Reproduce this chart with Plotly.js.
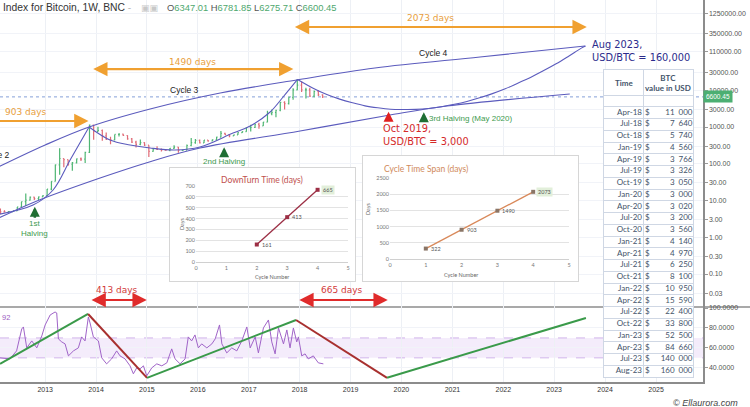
<!DOCTYPE html>
<html>
<head>
<meta charset="utf-8">
<script src="https://cdn.plot.ly/plotly-3.0.1.min.js"></script>
<style>
  body { margin: 0; background: #fff; }
  #chart { width: 750px; height: 407px; }
</style>
</head>
<body>
<div id="chart"></div>
<script>
// BNC bitcoin index, monthly bars (Feb 2012 .. Jun 2018)
var candleOpen = [5.5,4.9,4.9,5.0,5.2,6.7,9.3,10.2,12.4,11.2,12.6,
  13.5,20.4,33.4,93,139,129,97,106,135,133,204,1130,
  757,803,573,457,447,628,640,587,478,386,338,378,
  320,217,254,244,236,230,263,284,230,236,314,377,
  430,368,437,416,448,530,673,624,573,609,700,745,
  963,970,1190,1080,1350,2300,2480,2860,4700,4340,6440,10200,
  13800,10200,10300,6900,9250,7500];
var candleHigh = [6.1,5.4,5.2,5.2,6.7,9.3,15.4,12.8,12.6,12.8,13.9,
  20.6,33.4,95,266,140,129,111,139,147,213,1163,1150,
  1022,850,710,545,630,680,660,600,500,420,460,385,
  320,268,300,260,247,268,318,285,245,334,500,470,
  460,445,440,466,540,780,703,630,620,720,750,975,
  1150,1210,1300,1370,2780,3000,2950,4780,5000,6470,11400,19800,
  17200,11700,11700,9800,10000,7770];
var candleLow = [4.3,4.7,4.8,4.9,5.2,6.5,7.1,10.0,10.4,10.4,12.5,
  13.2,19.1,33,50,80,88,65,102,118,105,197,450,
  740,420,440,340,433,555,565,450,365,275,320,305,
  152,212,235,215,225,220,253,198,225,236,300,350,
  355,365,395,412,435,525,605,530,570,605,685,740,
  750,940,890,1060,1350,2100,1840,2700,2980,4110,5500,10000,
  9000,6000,6600,6500,7000,6120];
var candleClose = [4.9,4.9,5.0,5.2,6.7,9.3,10.2,12.4,11.2,12.6,13.5,
  20.4,33.4,93,139,129,97,106,135,133,204,1130,757,
  803,573,457,447,628,640,587,478,386,338,378,320,
  217,254,244,236,230,263,284,230,236,314,377,430,
  368,437,416,448,530,673,624,573,609,700,745,963,
  970,1190,1080,1350,2300,2480,2860,4700,4340,6440,10200,13800,
  10200,10300,6900,9250,7500,6600.45];
var lastBar = [6347.01, 6781.85, 6275.71, 6600.45];   // O H L C of the last weekly bar

// hand drawn cycle curves on the price pane
var upperDate = ['2012-02-01','2013-01-01','2013-11-12','2015-01-24','2016-06-10','2017-12-10','2019-06-25','2021-07-18','2023-08-11'];
var upperUsd = [82, 324, 1000, 3090, 8410, 19000, 40300, 80400, 160000];
var lowerDate = ['2012-02-01','2012-10-21','2014-01-30','2015-01-24','2016-01-17','2018-01-04','2019-10-11','2020-11-23','2023-04-23'];
var lowerUsd = [3.3, 9.3, 41, 114, 268, 778, 2120, 3725, 7910];
var cycle2Date = ['2012-02-01','2012-10-06','2013-02-27','2013-06-29','2013-11-12'];
var cycle2Usd = [4.2, 7.5, 19.3, 126, 1000];
var cycle3Date = ['2013-11-12','2014-04-11','2014-09-02','2015-01-24','2015-07-22','2016-01-17','2016-09-10','2017-01-11','2017-06-03','2017-09-04','2017-12-17'];
var cycle3Usd = [1000, 443, 324, 268, 237, 286, 687, 1065, 2560, 6550, 19700];

// forecast table (also the cycle 4 curve)
var tableTime = ['Apr-18','Jul-18','Oct-18','Jan-19','Apr-19','Jul-19','Oct-19','Jan-20','Apr-20','Jul-20','Oct-20','Jan-21','Apr-21','Jul-21','Oct-21','Jan-22','Apr-22','Jul-22','Oct-22','Jan-23','Apr-23','Jul-23','Aug-23'];
var tableUsd = [11000,7640,5740,4560,3766,3326,3050,3000,3020,3200,3560,4140,4970,6250,8100,10950,15590,22400,33800,52500,84660,140000,160000];

// weekly RSI
var rsiDate = ['2012-02-12','2012-04-23','2012-06-10','2012-07-17','2012-07-29','2012-08-22','2012-09-27','2012-11-02','2012-12-08','2013-01-01',
  '2013-02-06','2013-03-13','2013-03-25','2013-04-06','2013-04-30','2013-05-24','2013-06-17','2013-07-23','2013-08-27','2013-09-20',
  '2013-10-14','2013-11-07','2013-11-19','2013-12-13','2014-01-18','2014-02-11','2014-03-18','2014-04-23','2014-05-29','2014-06-22',
  '2014-07-28','2014-09-02','2014-09-26','2014-10-20','2014-11-13','2014-12-07','2014-12-31','2015-02-05','2015-03-13','2015-04-18',
  '2015-05-24','2015-06-28','2015-07-22','2015-08-27','2015-10-02','2015-10-25','2015-11-18','2015-12-12','2016-01-05','2016-01-29',
  '2016-03-06','2016-04-11','2016-05-05','2016-06-05','2016-06-22','2016-07-27','2016-09-01','2016-10-07','2016-11-12','2016-12-18',
  '2017-01-11','2017-02-16','2017-03-11','2017-04-16','2017-05-22','2017-06-15','2017-07-09','2017-08-02','2017-09-07','2017-10-01',
  '2017-10-24','2017-11-17','2017-12-11','2017-12-23','2018-01-16','2018-02-09','2018-03-04','2018-04-09','2018-05-15','2018-06-20'];
var rsiVal = [50,49,57,79,81,60,67,60,72,83,
  93,96,95,69,66,64,52,57,60,71,
  67,91,85,71,67,50,44,49,57,52,
  49,42,34,40,39,42,32,40,44,42,
  45,59,49,44,49,71,67,73,60,64,
  60,64,69,83,64,55,60,57,67,81,
  60,71,55,80,88,66,54,80,64,78,
  60,80,66,71,52,54,49,52,45,44];
var rsiPivotDate = ['2012-02-12','2013-11-05','2015-01-02','2017-12-06','2019-09-20','2023-08-17'];
var rsiPivotVal = [44, 94, 30, 88, 30, 90];
var rsiBand = [50, 70];

// inset charts
var downCycle = [2, 3, 4];
var downDays = [161, 413, 665];
var spanCycle = [1, 2, 3, 4];
var spanDays = [322, 903, 1490, 2073];

// axis ticks
var priceTicks = [0.03, 0.1, 0.3, 1, 3, 10, 30, 100, 300, 1000, 3000, 10000, 30000, 110000, 350000, 1250000];
var rsiTicks = [40, 60, 80, 100];
var yearTicks = ['2013','2014','2015','2016','2017','2018','2019','2020','2021','2022','2023','2024','2025'];

var lg = function (v) { return Math.log10(v); };
var monthNum = {Jan:'01',Feb:'02',Mar:'03',Apr:'04',May:'05',Jun:'06',Jul:'07',Aug:'08',Sep:'09',Oct:'10',Nov:'11',Dec:'12'};
function labelToDate(s) { var p = s.split('-'); return '20' + p[1] + '-' + monthNum[p[0]] + '-15'; }
function fmtUsd(v) { return String(v).replace(/\B(?=(\d{3})+(?!\d))/g, '\u2002'); }

var candleDate = [];
for (var i = 0; i < candleOpen.length; i++) {
  var m = 1 + i;  // first bar is Feb 2012
  var yy = 2012 + Math.floor(m / 12);
  var mm = (m % 12) + 1;
  candleDate.push(yy + '-' + (mm < 10 ? '0' : '') + mm + '-15');
}

var curveColor = '#5b5bbd';
var tvFont = 'DejaVu Sans';
var xlFont = 'Lato';

var data = [];
data.push({
  type: 'ohlc', x: candleDate, open: candleOpen, high: candleHigh, low: candleLow, close: candleClose,
  xaxis: 'x', yaxis: 'y', tickwidth: 0.25, hoverinfo: 'skip',
  increasing: {line: {color: '#4fb673', width: 1.2}},
  decreasing: {line: {color: '#e06a76', width: 1.2}}
});
[[upperDate, upperUsd], [lowerDate, lowerUsd], [cycle2Date, cycle2Usd], [cycle3Date, cycle3Usd],
 [['2017-12-17'].concat(tableTime.map(labelToDate)), [19700].concat(tableUsd)]].forEach(function (c) {
  data.push({type: 'scatter', mode: 'lines', x: c[0], y: c[1], xaxis: 'x', yaxis: 'y',
    line: {color: curveColor, width: 1.1, shape: 'spline'}, hoverinfo: 'skip'});
});

// RSI pane
data.push({type: 'scatter', mode: 'lines', x: rsiDate, y: rsiVal, xaxis: 'x', yaxis: 'y2',
  line: {color: '#a064c8', width: 1}, hoverinfo: 'skip'});
for (var k = 0; k < rsiPivotDate.length - 1; k++) {
  data.push({type: 'scatter', mode: 'lines', x: rsiPivotDate.slice(k, k + 2), y: rsiPivotVal.slice(k, k + 2),
    xaxis: 'x', yaxis: 'y2', line: {color: k % 2 === 0 ? '#3a9a4a' : '#a8302f', width: 2}, hoverinfo: 'skip'});
}

// inset frames (empty subplots give the white boxes)
data.push({type: 'scatter', x: [], y: [], xaxis: 'x2', yaxis: 'y3', hoverinfo: 'skip'});
data.push({type: 'scatter', mode: 'lines+markers', x: downCycle, y: downDays, xaxis: 'x3', yaxis: 'y4',
  line: {color: '#9c2f45', width: 1.3}, marker: {symbol: 'square', size: 4, color: '#9c2f45'}, hoverinfo: 'skip'});
data.push({type: 'scatter', x: [], y: [], xaxis: 'x4', yaxis: 'y5', hoverinfo: 'skip'});
data.push({type: 'scatter', mode: 'lines+markers', x: spanCycle, y: spanDays, xaxis: 'x5', yaxis: 'y6',
  line: {color: '#d9895a', width: 1.3}, marker: {symbol: 'square', size: 4, color: '#8a7566'}, hoverinfo: 'skip'});

// table
var rowY = tableTime.map(function (t, i) { return i + 0.5; });
var tblFont = {family: xlFont, size: 8, color: '#44546a'};
data.push({type: 'scatter', mode: 'text', x: tableTime.map(function () { return 38; }), y: rowY, text: tableTime,
  textposition: 'middle left', textfont: tblFont, xaxis: 'x6', yaxis: 'y7', hoverinfo: 'skip'});
data.push({type: 'scatter', mode: 'text', x: tableTime.map(function () { return 41; }), y: rowY, text: tableTime.map(function () { return '$'; }),
  textposition: 'middle right', textfont: tblFont, xaxis: 'x6', yaxis: 'y7', hoverinfo: 'skip'});
data.push({type: 'scatter', mode: 'text', x: tableTime.map(function () { return 88.5; }), y: rowY, text: tableUsd.map(fmtUsd),
  textposition: 'middle left', textfont: tblFont, xaxis: 'x6', yaxis: 'y7', hoverinfo: 'skip'});

// ---- annotations
var ann = [];
function txt(o) { o.showarrow = false; ann.push(o); }

txt({xref: 'paper', yref: 'paper', x: 0, y: 1, xanchor: 'left', yanchor: 'top', xshift: 1,
  text: 'Index for Bitcoin, 1W, BNC <span style="color:#bbb">-</span>', font: {family: 'Liberation Sans', size: 10.3, color: '#333'}});
txt({xref: 'paper', yref: 'paper', x: 139 / 703, y: 1, xanchor: 'left', yanchor: 'top', yshift: -1,
  text: '\u25A3\u25A3', font: {family: 'DejaVu Sans', size: 9, color: '#c8c8c8'}});
txt({xref: 'paper', yref: 'paper', x: 165 / 703, y: 1, xanchor: 'left', yanchor: 'top',
  text: ['O', 'H', 'L', 'C'].map(function (l, i) { return l + '<span style="color:#4ea86e">' + lastBar[i].toFixed(2) + '</span>'; }).join(' '),
  font: {family: 'Liberation Sans', size: 9.4, color: '#555'}});

// day-count arrows
var orange = '#f0a030';
function arrow(d0, d1, v, color, both) {
  ann.push({xref: 'x', yref: 'y', axref: 'x', ayref: 'y', x: d1, ax: d0, y: lg(v), ay: lg(v), text: '', showarrow: true,
    arrowcolor: color, arrowwidth: 2.2, arrowhead: 2, arrowsize: 1.3, startarrowhead: 2, startarrowsize: 1.3,
    arrowside: both ? 'end+start' : 'end'});
}
arrow('2011-06-01', '2013-11-08', 1456, orange, false);
arrow('2013-12-01', '2017-11-17', 37800, orange, true);
arrow('2017-11-17', '2023-08-23', 526000, orange, true);
arrow('2013-11-19', '2014-12-31', 0.0196, '#e02b2b', true);
arrow('2017-12-19', '2019-09-25', 0.0196, '#e02b2b', true);
var orangeText = {family: tvFont, size: 9, color: '#e8a040'};
txt({xref: 'x', yref: 'y', x: '2012-08-13', y: lg(2559), text: '903 days', font: orangeText});
txt({xref: 'x', yref: 'y', x: '2015-11-23', y: lg(58700), text: '1490 days', font: orangeText});
txt({xref: 'x', yref: 'y', x: '2020-07-28', y: lg(908000), text: '2073 days', font: orangeText});
var redText = {family: tvFont, size: 9, color: '#d23a3a'};
txt({xref: 'x', yref: 'y', x: '2014-05-28', y: lg(0.0367), text: '413 days', font: redText});
txt({xref: 'x', yref: 'y', x: '2018-11-01', y: lg(0.0367), text: '665 days', font: redText});

// cycle labels
var blk = {family: 'Liberation Sans', size: 8.5, color: '#222'};
txt({xref: 'x', yref: 'y', x: '2012-05-08', y: lg(173), xanchor: 'right', text: 'Cycle 2', font: blk});
txt({xref: 'x', yref: 'y', x: '2015-10-01', y: lg(10200), text: 'Cycle 3', font: blk});
txt({xref: 'x', yref: 'y', x: '2020-08-15', y: lg(103000), text: 'Cycle 4', font: blk});

// halvings
var grn = {family: 'Liberation Sans', size: 8, color: '#3e9a4e'};
ann.push({xref: 'x', yref: 'y', x: '2012-10-19', y: lg(6.8), ax: 0, ay: 22, text: '1st<br>Halving', font: grn,
  showarrow: true, arrowcolor: '#1f6e33', arrowwidth: 2.5, arrowhead: 2, arrowsize: 0.8});
ann.push({xref: 'x', yref: 'y', x: '2016-07-08', y: lg(281), ax: 0, ay: 14, text: '2nd Halving', font: grn,
  showarrow: true, arrowcolor: '#1f6e33', arrowwidth: 2.5, arrowhead: 2, arrowsize: 0.8});
ann.push({xref: 'x', yref: 'y', x: '2020-06-10', y: lg(2510), ax: 0, ay: 9, text: '',
  showarrow: true, arrowcolor: '#1f6e33', arrowwidth: 2.5, arrowhead: 2, arrowsize: 0.8});
txt({xref: 'x', yref: 'y', x: '2020-07-05', y: lg(1758), xanchor: 'left', text: '3rd Halving (May 2020)', font: grn});

// targets
ann.push({xref: 'x', yref: 'y', x: '2019-10-01', y: lg(2600), ax: 0, ay: 10, text: '',
  showarrow: true, arrowcolor: '#e02020', arrowwidth: 2.5, arrowhead: 2, arrowsize: 0.8});
txt({xref: 'x', yref: 'y', x: '2019-08-07', y: lg(606), xanchor: 'left', align: 'left',
  text: 'Oct 2019,<br>USD/BTC = 3,000', font: {family: tvFont, size: 9.8, color: '#d42a2a'}});
txt({xref: 'x', yref: 'y', x: '2023-09-15', y: lg(117000), xanchor: 'left', align: 'left',
  text: 'Aug 2023,<br>USD/BTC = 160,000', font: {family: tvFont, size: 9.8, color: '#2b2b8c'}});

// price tag, rsi value, watermark
txt({xref: 'paper', yref: 'y', x: 1, y: lg(candleClose[candleClose.length - 1]), xanchor: 'left',
  text: candleClose[candleClose.length - 1].toFixed(2), bgcolor: '#4caf72', borderpad: 2,
  font: {family: 'Liberation Sans', size: 6.5, color: '#fff'}});
txt({xref: 'paper', yref: 'y2', x: 0, y: 90, xanchor: 'left', text: '92', font: {family: 'Liberation Sans', size: 7.5, color: '#9b5bbf'}});
txt({xref: 'paper', yref: 'paper', x: 740 / 703, y: -21 / 382, xanchor: 'right', yanchor: 'middle',
  text: '<i>© Ellaurora.com</i>', font: {family: 'Liberation Sans', size: 9, color: '#444'}});

// inset titles / axis titles / point labels
txt({xref: 'paper', yref: 'paper', x: 262 / 703, y: 1 - 180 / 382, text: 'DownTurn Time (days)', font: {family: xlFont, size: 8.5, color: '#c0504d'}});
txt({xref: 'paper', yref: 'paper', x: 177 / 703, y: 1 - 224 / 382, textangle: -90, text: 'Days', font: {family: xlFont, size: 5.5, color: '#666'}});
txt({xref: 'paper', yref: 'paper', x: 272 / 703, y: 1 - 277 / 382, yanchor: 'middle', text: 'Cycle Number', font: {family: xlFont, size: 5.5, color: '#666'}});
txt({xref: 'paper', yref: 'paper', x: 470 / 703, y: 1 - 169 / 382, text: 'Cycle Time Span (days)', font: {family: xlFont, size: 8.5, color: '#d08a5c'}});
txt({xref: 'paper', yref: 'paper', x: 368 / 703, y: 1 - 208 / 382, textangle: -90, text: 'Days', font: {family: xlFont, size: 5.5, color: '#666'}});
txt({xref: 'paper', yref: 'paper', x: 480 / 703, y: 1 - 275 / 382, yanchor: 'middle', text: 'Cycle Number', font: {family: xlFont, size: 5.5, color: '#666'}});
downCycle.forEach(function (c, i) {
  txt({xref: 'x3', yref: 'y4', x: c, y: downDays[i], xanchor: 'left', xshift: 3, text: String(downDays[i]),
    bgcolor: i === downDays.length - 1 ? '#e2efda' : 'rgba(0,0,0,0)', borderpad: 1, font: {family: xlFont, size: 5.5, color: '#555'}});
});
spanCycle.forEach(function (c, i) {
  txt({xref: 'x5', yref: 'y6', x: c, y: spanDays[i], xanchor: 'left', xshift: 3, text: String(spanDays[i]),
    bgcolor: i === spanDays.length - 1 ? '#e2efda' : 'rgba(0,0,0,0)', borderpad: 1, font: {family: xlFont, size: 5.5, color: '#555'}});
});

// table headers
var hdrY = -2.06;
txt({xref: 'x6', yref: 'y7', x: 19.5, y: hdrY, text: '<b>Time</b>', font: {family: xlFont, size: 8, color: '#44546a'}});
txt({xref: 'x6', yref: 'y7', x: 64, y: hdrY, text: '<b>BTC</b><br><b>value in USD</b>', font: {family: xlFont, size: 8, color: '#44546a'}});

// ---- shapes
var shapes = [
  {type: 'rect', xref: 'paper', x0: 0, x1: 1, yref: 'y2', y0: rsiBand[0], y1: rsiBand[1],
    fillcolor: 'rgba(190,140,232,0.17)', line: {width: 0}, layer: 'below'},
  {type: 'line', xref: 'paper', x0: 0, x1: 1, yref: 'y2', y0: rsiBand[0], y1: rsiBand[0],
    line: {color: 'rgba(175,125,220,0.55)', width: 1, dash: 'dash'}, layer: 'below'},
  {type: 'line', xref: 'paper', x0: 0, x1: 1, yref: 'y2', y0: rsiBand[1], y1: rsiBand[1],
    line: {color: 'rgba(175,125,220,0.55)', width: 1, dash: 'dash'}, layer: 'below'},
  {type: 'line', xref: 'paper', x0: 0, x1: 1, yref: 'y', y0: lastBar[3], y1: lastBar[3],
    line: {color: '#86a0d8', width: 1, dash: 'dot'}, layer: 'below'},
  {type: 'line', xref: 'paper', x0: 0, x1: 750 / 703, yref: 'paper', y0: 75 / 382, y1: 75 / 382,
    line: {color: '#8c8c8c', width: 1.5}, layer: 'below'}
];

var tickFont = {family: 'Liberation Sans', size: 7, color: '#555'};
function boxAxis(dom, anchor) {
  return {domain: dom, anchor: anchor, range: [0, 1], showline: true, mirror: true, linecolor: '#d6d6d6', linewidth: 1,
    showgrid: false, zeroline: false, showticklabels: false, ticks: '', fixedrange: true};
}
var insetTick = {family: xlFont, size: 5.5, color: '#777'};

var layout = {
  width: 750, height: 407,
  margin: {l: 0, r: 47, t: 0, b: 25, pad: 0},
  paper_bgcolor: '#fff', plot_bgcolor: '#fff',
  showlegend: false, hovermode: false,
  font: {family: 'Liberation Sans'},
  xaxis: {type: 'date', domain: [0, 1], anchor: 'y2', range: ['2012-02-12', '2025-12-04'],
    tickvals: yearTicks.map(function (y) { return y + '-01-01'; }), ticktext: yearTicks,
    tickfont: {family: 'Liberation Sans', size: 7, color: '#333'}, ticks: '',
    showline: true, linecolor: '#8c8c8c', linewidth: 1.5, showgrid: true, gridcolor: '#edf0f5',
    zeroline: false, rangeslider: {visible: false}},
  yaxis: {type: 'log', domain: [75 / 382, 1], anchor: 'x', side: 'right', range: [-1.898, 6.456],
    tickvals: priceTicks, ticktext: priceTicks.map(function (v) { return v.toFixed(2); }),
    tickfont: tickFont, ticks: 'outside', ticklen: 3, tickcolor: '#999',
    showline: true, linecolor: '#8c8c8c', linewidth: 1.5, showgrid: true, gridcolor: '#f1f3f8', zeroline: false},
  yaxis2: {domain: [0, 75 / 382], anchor: 'x', side: 'right', range: [25.8, 101],
    tickvals: rsiTicks, ticktext: rsiTicks.map(function (v) { return v.toFixed(4); }),
    tickfont: tickFont, ticks: 'outside', ticklen: 3, tickcolor: '#999',
    showline: true, linecolor: '#8c8c8c', linewidth: 1.5, showgrid: true, gridcolor: '#f1f3f8', zeroline: false},

  xaxis2: boxAxis([170 / 703, 355 / 703], 'y3'),
  yaxis3: boxAxis([1 - 281 / 382, 1 - 168 / 382], 'x2'),
  xaxis3: {domain: [196 / 703, 348 / 703], anchor: 'y4', range: [0, 5], dtick: 1, tickfont: insetTick,
    showgrid: false, zeroline: false, showline: true, linecolor: '#d0d0d0', ticks: '', fixedrange: true},
  yaxis4: {domain: [1 - 262 / 382, 1 - 186 / 382], anchor: 'x3', range: [0, 700], dtick: 100, tickfont: insetTick,
    showgrid: true, gridcolor: '#e3e3e3', zeroline: false, showline: false, ticks: '', fixedrange: true},

  xaxis4: boxAxis([363 / 703, 578 / 703], 'y5'),
  yaxis5: boxAxis([1 - 281 / 382, 1 - 156 / 382], 'x4'),
  xaxis5: {domain: [390 / 703, 569 / 703], anchor: 'y6', range: [0, 5], dtick: 1, tickfont: insetTick,
    showgrid: false, zeroline: false, showline: true, linecolor: '#d0d0d0', ticks: '', fixedrange: true},
  yaxis6: {domain: [1 - 259 / 382, 1 - 178 / 382], anchor: 'x5', range: [0, 2500], dtick: 500, tickfont: insetTick,
    showgrid: true, gridcolor: '#e3e3e3', zeroline: false, showline: false, ticks: '', fixedrange: true},

  xaxis6: {domain: [604 / 703, 693 / 703], anchor: 'y7', range: [0, 89], tickvals: [39], showticklabels: false, ticks: '',
    showgrid: true, gridcolor: '#cfd7e4', showline: true, mirror: true, linecolor: '#cfd7e4', zeroline: false, fixedrange: true},
  yaxis7: {domain: [1 - 377 / 382, 1 - 70 / 382], anchor: 'x6', range: [23, -3.13],
    tickvals: [-1].concat(tableTime.map(function (t, i) { return i; })), showticklabels: false, ticks: '',
    showgrid: true, gridcolor: '#cfd7e4', showline: true, mirror: true, linecolor: '#cfd7e4', zeroline: false, fixedrange: true},

  annotations: ann,
  shapes: shapes
};

Plotly.newPlot('chart', data, layout, {displayModeBar: false, staticPlot: true});
</script>
</body>
</html>
